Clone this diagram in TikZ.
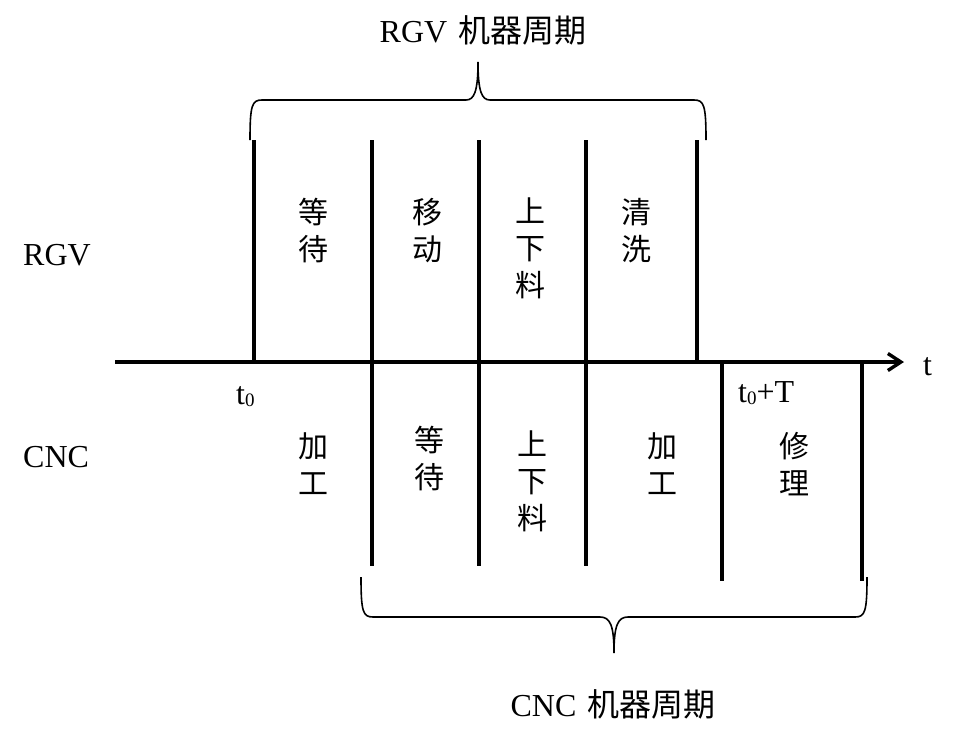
\documentclass[tikz,border=0pt]{standalone}
\usepackage{fontspec}
\setmainfont{Liberation Serif}
\newfontfamily\cjk{Noto Sans CJK SC}
\usetikzlibrary{arrows.meta}
\begin{document}
\begin{tikzpicture}[x=1pt,y=-1pt,
  lat/.style={font=\fontsize{32}{37}\selectfont, inner sep=0},
  colt/.style={font=\cjk\fontsize{30}{37}\selectfont, align=center, inner sep=0, anchor=north},
  thickbar/.style={line width=4.5pt},
  thinbar/.style={line width=3.6pt},
  bracepath/.style={line width=1.6pt},
  axisline/.style={line width=3.4pt, -{Straight Barb[length=13pt,width=17pt]}}]
\useasboundingbox (0,0) rectangle (964,737);
% axis
\coordinate (a0) at (115,362);
\coordinate (a1) at (904,362);
\draw[axisline] (a0) -- (a1);
\node[lat, anchor=base west] (tl) at (923,375) {t};
% vertical bars
\draw[thickbar] (254,140) -- (254,362);
\draw[thinbar] (372,140) -- (372,566);
\draw[thinbar] (479,140) -- (479,566);
\draw[thinbar] (586,140) -- (586,566);
\draw[thickbar] (697,140) -- (697,362);
\draw[thickbar] (722,362) -- (722,581);
\draw[thickbar] (862,362) -- (862,581);
% braces
\draw[bracepath] (250,140) .. controls (250,105) and (252,100) .. (262,100) -- (466,100)
  .. controls (474,100) and (478,92) .. (478,62)
  .. controls (478,92) and (482,100) .. (490,100) -- (694,100)
  .. controls (704,100) and (706,105) .. (706,140);
\draw[bracepath] (361,577) .. controls (361,612) and (363,617) .. (373,617) -- (600,617)
  .. controls (610,617) and (614,625) .. (614,653)
  .. controls (614,625) and (618,617) .. (628,617) -- (855,617)
  .. controls (865,617) and (867,612) .. (867,577);
% titles
\node[lat, anchor=base] (rgvt) at (483,42) {RGV\hspace{11pt}{\cjk 机器周期}};
\node[lat, anchor=base] (cnct) at (613,716) {CNC\hspace{11pt}{\cjk 机器周期}};
% row labels
\node[lat, anchor=base west] (rgv) at (23,265) {RGV};
\node[lat, anchor=base west] (cnc) at (23,467) {CNC};
% time labels
\node[lat, anchor=base west] (t0) at (236,404) {t\raisebox{-2pt}{\fontsize{19}{19}\selectfont 0}};
\node[lat, anchor=base west] (t0T) at (738,402) {t\raisebox{-2pt}{\fontsize{19}{19}\selectfont 0}+T};
% RGV column texts
\node[colt] (r1) at (313,198) {等\\待};
\node[colt] (r2) at (427,198) {移\\动};
\node[colt] (r3) at (530,198) {上\\下\\料};
\node[colt] (r4) at (636,198) {清\\洗};
% CNC column texts
\node[colt] (c1) at (313,432) {加\\工};
\node[colt] (c2) at (429,426) {等\\待};
\node[colt] (c3) at (532,431) {上\\下\\料};
\node[colt] (c4) at (662,432) {加\\工};
\node[colt] (c5) at (794,432) {修\\理};
\end{tikzpicture}
\end{document}
